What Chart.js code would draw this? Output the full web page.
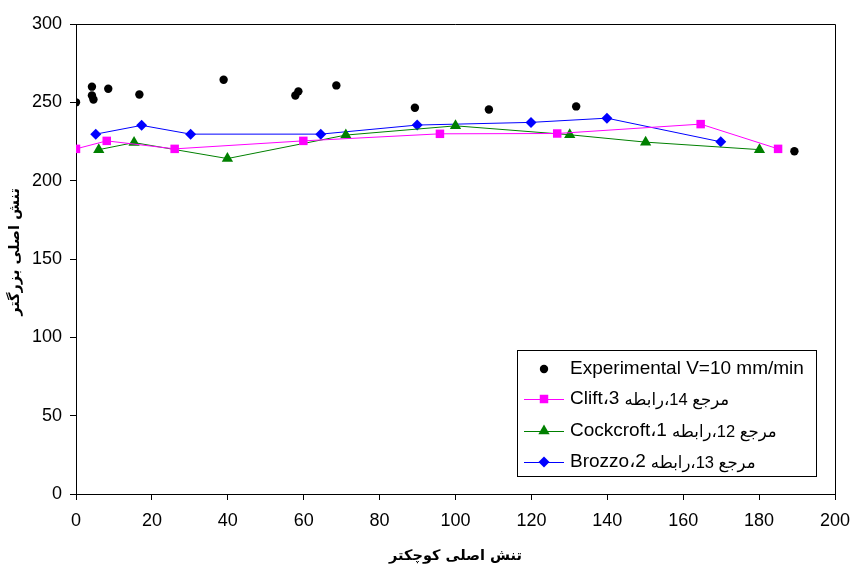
<!DOCTYPE html>
<html>
<head>
<meta charset="utf-8">
<script src="https://cdn.jsdelivr.net/npm/chart.js@4/dist/chart.umd.min.js"></script>
<style>
  body { margin: 0; background: #fff; }
  canvas { display: block; }
</style>
</head>
<body>
<canvas id="chart" width="852" height="568"></canvas>
<script>
// values
const expX = [0, 4.2, 4.2, 4.6, 8.5, 16.7, 38.9, 57.8, 58.6, 68.6, 89.3, 108.8, 131.8, 189.3];
const expY = [250, 260, 254.4, 251.8, 258.7, 255, 264.4, 254.4, 257, 260.8, 246.5, 245.4, 247.4, 218.8];

const cliftX = [0, 8.1, 26, 59.9, 95.9, 126.8, 164.6, 185];
const cliftY = [220.3, 225.4, 220.3, 225.4, 229.9, 230.1, 236.1, 220.3];

const cockX = [6, 15.3, 39.9, 71.1, 100, 130.1, 150.1, 180.1];
const cockY = [219.8, 224.3, 214.1, 229.1, 235, 229.3, 224.6, 219.8];

const brozzoX = [5.2, 17.3, 30.2, 64.5, 89.9, 119.9, 139.9, 169.9];
const brozzoY = [229.7, 235.3, 229.7, 229.7, 235.5, 237.2, 239.9, 224.8];

const seriesNames = [
    'Experimental V=10 mm/min',
    'مرجع 14،رابطه 3،Clift',
    'مرجع 12،رابطه 1،Cockcroft',
    'مرجع 13،رابطه 2،Brozzo'
];
const xTitle = 'تنش اصلی کوچکتر';
const yTitle = 'تنش اصلی بزرگتر';

const FONT = "'Liberation Sans', Arial, 'DejaVu Sans', sans-serif";
const TITLE_FONT = "bold 14.5px 'DejaVu Sans', sans-serif";

function pts(xs, ys) {
    return xs.map((x, i) => ({ x: x, y: ys[i] }));
}

// legend box sits inside the plot, like the excel original
const boxLegend = {
    id: 'boxLegend',
    afterDraw(chart) {
        const ctx = chart.ctx;
        const left = 517, top = 350, w = 299, h = 126;
        ctx.save();
        ctx.fillStyle = '#fff';
        ctx.fillRect(left, top, w, h);
        ctx.strokeStyle = '#000';
        ctx.lineWidth = 1;
        ctx.strokeRect(left + 0.5, top + 0.5, w, h);
        const rows = [369, 399, 431, 462];
        chart.data.datasets.forEach((ds, i) => {
            const y = rows[i];
            if (ds.showLine) {
                ctx.strokeStyle = ds.borderColor;
                ctx.lineWidth = 1;
                ctx.beginPath();
                ctx.moveTo(524, y + 0.5);
                ctx.lineTo(564, y + 0.5);
                ctx.stroke();
            }
            ctx.fillStyle = ds.pointBackgroundColor;
            ctx.strokeStyle = ds.pointBorderColor;
            Chart.helpers.drawPoint(ctx, {
                pointStyle: ds.pointStyle,
                radius: ds.pointRadius,
                rotation: 0,
                borderWidth: 0
            }, 544, y);
            ctx.fillStyle = '#000';
            ctx.textBaseline = 'middle';
            ctx.textAlign = 'left';
            const name = seriesNames[i];
            if (i === 0) {
                ctx.direction = 'ltr';
                ctx.font = '19px ' + FONT;
                ctx.fillText(name, 570, y);
            } else {
                // latin tail drawn at full size, arabic head a bit smaller
                const cut = name.lastIndexOf(' ');
                const head = name.slice(0, cut);
                const tail = name.slice(cut + 1);
                ctx.direction = 'rtl';
                ctx.font = '19px ' + FONT;
                ctx.fillText(tail, 570, y);
                const tw = ctx.measureText(tail).width;
                ctx.font = '16.5px ' + FONT;
                ctx.fillText(head, 570 + tw + 5, y + 1);
            }
        });
        ctx.restore();
    }
};

// top and right edges of the plot area, plus the vertical axis title
const plotFrame = {
    id: 'plotFrame',
    beforeDatasetsDraw(chart) {
        const { ctx, chartArea: a } = chart;
        ctx.save();
        ctx.strokeStyle = '#000';
        ctx.lineWidth = 1;
        ctx.beginPath();
        ctx.moveTo(a.left, Math.round(a.top) + 0.5);
        ctx.lineTo(Math.round(a.right) + 0.5, Math.round(a.top) + 0.5);
        ctx.lineTo(Math.round(a.right) + 0.5, a.bottom);
        ctx.stroke();

        ctx.translate(15, 252);
        ctx.rotate(-Math.PI / 2);
        ctx.fillStyle = '#000';
        ctx.font = TITLE_FONT;
        ctx.textAlign = 'center';
        ctx.textBaseline = 'middle';
        ctx.fillText(yTitle, 0, 0);
        ctx.restore();
    }
};

Chart.defaults.color = '#000';
Chart.defaults.font.family = FONT;

new Chart(document.getElementById('chart'), {
    type: 'scatter',
    data: {
        datasets: [
            {
                label: seriesNames[0],
                data: pts(expX, expY),
                showLine: false,
                pointStyle: 'circle',
                pointRadius: 4.2,
                pointBackgroundColor: '#000',
                pointBorderColor: '#000',
                borderColor: '#000',
                pointBorderWidth: 0
            },
            {
                label: seriesNames[1],
                data: pts(cliftX, cliftY),
                showLine: true,
                borderColor: '#ff00ff',
                borderWidth: 1,
                pointStyle: 'rect',
                pointRadius: 6,
                pointBackgroundColor: '#ff00ff',
                pointBorderColor: '#ff00ff',
                pointBorderWidth: 0
            },
            {
                label: seriesNames[2],
                data: pts(cockX, cockY),
                showLine: true,
                borderColor: '#008000',
                borderWidth: 1,
                pointStyle: 'triangle',
                pointRadius: 6.5,
                pointBackgroundColor: '#008000',
                pointBorderColor: '#008000',
                pointBorderWidth: 0
            },
            {
                label: seriesNames[3],
                data: pts(brozzoX, brozzoY),
                showLine: true,
                borderColor: '#0000ff',
                borderWidth: 1,
                pointStyle: 'rectRot',
                pointRadius: 5.5,
                pointBackgroundColor: '#0000ff',
                pointBorderColor: '#0000ff',
                pointBorderWidth: 0
            }
        ]
    },
    options: {
        responsive: false,
        animation: false,
        layout: { padding: { left: 0, right: 17, top: 24, bottom: 0 } },
        plugins: {
            legend: { display: false },
            tooltip: { enabled: false }
        },
        scales: {
            x: {
                type: 'linear',
                min: 0,
                max: 200,
                afterFit: (s) => { s.height = 74; s.paddingRight = 0; s.paddingLeft = 0; },
                ticks: { stepSize: 20, font: { size: 18 }, padding: 10, maxRotation: 0 },
                grid: { drawOnChartArea: false, tickLength: 6, color: '#000' },
                border: { color: '#000', width: 1 },
                title: {
                    display: true,
                    text: xTitle,
                    font: { size: 14.5, weight: 'bold', family: "'DejaVu Sans', sans-serif" },
                    padding: { top: 0, bottom: 3 }
                }
            },
            y: {
                min: 0,
                max: 300,
                afterFit: (s) => { s.width = 76; },
                ticks: { stepSize: 50, font: { size: 18 }, padding: 8 },
                grid: { drawOnChartArea: false, tickLength: 6, color: '#000' },
                border: { color: '#000', width: 1 }
            }
        }
    },
    plugins: [plotFrame, boxLegend]
});
</script>
</body>
</html>
